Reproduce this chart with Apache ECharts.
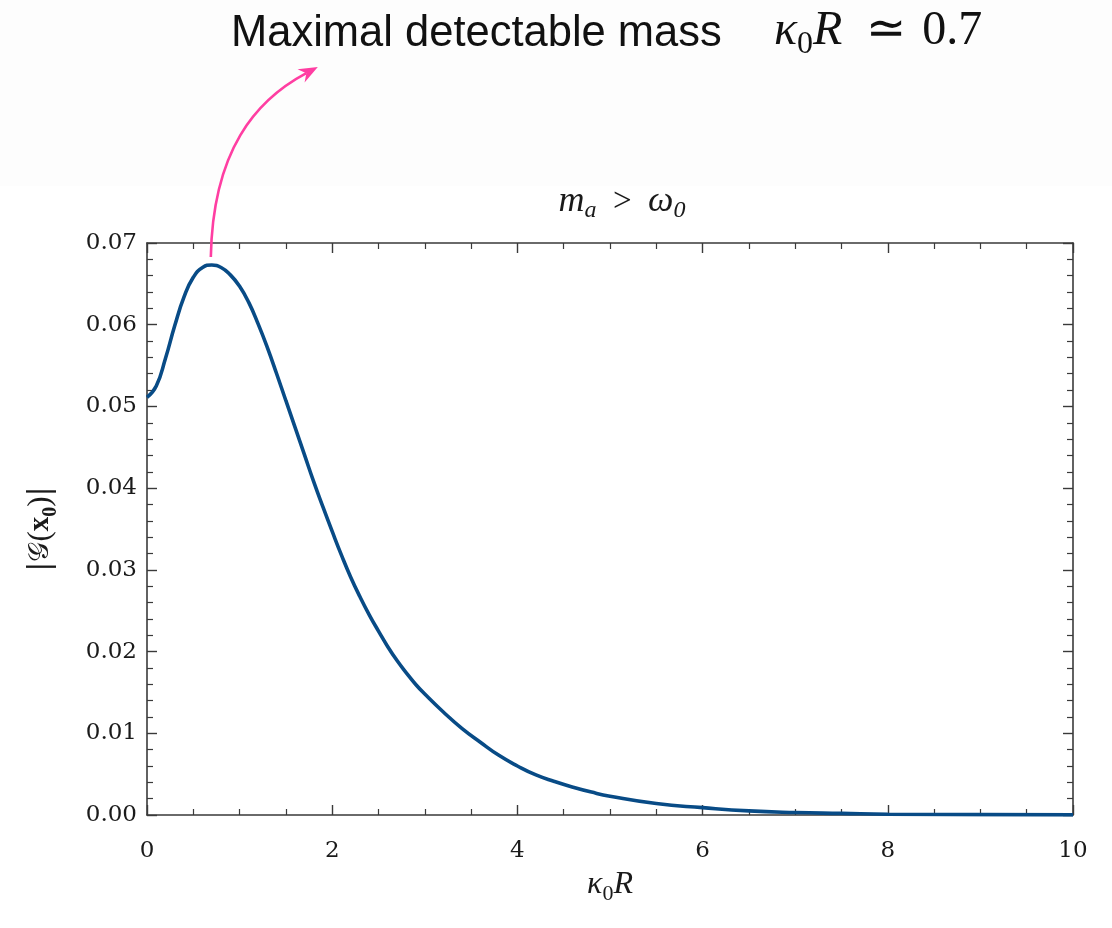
<!DOCTYPE html>
<html>
<head>
<meta charset="utf-8">
<script src="https://cdn.jsdelivr.net/npm/echarts@6/dist/echarts.min.js"></script>
<style>
html,body{margin:0;padding:0;background:#fff;}
#chart{width:1112px;height:928px;}
</style>
</head>
<body>
<div id="chart"></div>
<script>
// ---- data ----
const kappaR = [0, 0.1, 0.2, 0.3, 0.4, 0.5, 0.6, 0.7, 0.8, 0.9, 1.0, 1.1, 1.2, 1.3, 1.4, 1.5, 1.6, 1.7, 1.8, 1.9, 2.0, 2.1, 2.2, 2.3, 2.4, 2.5, 2.6, 2.7, 2.8, 2.9, 3.0, 3.2, 3.4, 3.6, 3.8, 4.0, 4.2, 4.4, 4.6, 4.8, 5.0, 5.5, 6.0, 6.5, 7.0, 7.5, 8.0, 9.0, 10.0];
const gAbs = [0.0511, 0.0525, 0.0559, 0.0599, 0.0634, 0.0658, 0.0670, 0.0673, 0.0670, 0.0661, 0.0647, 0.0627, 0.0601, 0.0572, 0.0540, 0.0507, 0.0474, 0.0441, 0.0408, 0.0377, 0.0347, 0.0318, 0.0291, 0.0267, 0.0245, 0.0225, 0.0206, 0.0189, 0.0174, 0.0160, 0.0148, 0.0126, 0.0106, 0.0089, 0.0073, 0.0060, 0.0049, 0.0041, 0.0034, 0.0028, 0.0023, 0.0014, 0.0009, 0.0005, 0.0003, 0.0002, 0.0001, 0.00004, 0.00001];
const peak = [0.7, 0.0673];
const xTicks = [0, 2, 4, 6, 8, 10];
const yTicks = [0.00, 0.01, 0.02, 0.03, 0.04, 0.05, 0.06, 0.07];

const chart = echarts.init(document.getElementById('chart'), null, {renderer: 'canvas'});
const axisColor = '#3a3a3a';
const labelFont = 'DejaVu Serif';
const mathFont = 'Liberation Serif';
const txt = '#1a1a1a';
const sp = '\u2002';
const sp3 = '\u2004';

function axisCommon(showLabel) {
  return {
    axisLine: {show: true, onZero: false, lineStyle: {color: axisColor, width: 1.6}},
    axisTick: {show: true, inside: true, length: 10, lineStyle: {color: axisColor, width: 1.4}},
    splitLine: {show: false},
    minorSplitLine: {show: false},
    axisLabel: {show: showLabel, fontFamily: labelFont, fontSize: 23, color: txt}
  };
}
const minorX = {show: true, splitNumber: 4, length: 6, lineStyle: {color: axisColor, width: 1.2}};
const minorY = {show: true, splitNumber: 5, length: 6, lineStyle: {color: axisColor, width: 1.2}};

const option = {
  backgroundColor: '#ffffff',
  animation: false,
  title: {
    text: '{i|m}{s|a}{n|' + sp + '>' + sp + '}{i|ω}{s|0}',
    left: 617, top: 176, textAlign: 'center',
    textStyle: {
      fontWeight: 'normal',
      rich: {
        i: {fontFamily: mathFont, fontStyle: 'italic', fontWeight: 'normal', fontSize: 36, color: txt, lineHeight: 42, verticalAlign: 'middle'},
        n: {fontFamily: mathFont, fontWeight: 'normal', fontSize: 33, color: txt, lineHeight: 42, verticalAlign: 'middle'},
        s: {fontFamily: mathFont, fontStyle: 'italic', fontWeight: 'normal', fontSize: 24, color: txt, lineHeight: 42, verticalAlign: 'bottom'}
      }
    }
  },
  grid: {left: 147, right: 39, top: 243, bottom: 113, containLabel: false},
  xAxis: [
    Object.assign({
      type: 'value', min: 0, max: 10, interval: 2, position: 'bottom',
      name: '{i|κ}{s|0}{i|R}', nameLocation: 'middle', nameGap: 50,
      nameTextStyle: {rich: {
        i: {fontFamily: mathFont, fontStyle: 'italic', fontSize: 32, color: txt, lineHeight: 40, verticalAlign: 'middle'},
        s: {fontFamily: mathFont, fontSize: 22, color: txt, lineHeight: 40, verticalAlign: 'bottom'}
      }}
    }, axisCommon(true), {minorTick: minorX,
      axisLabel: {show: true, fontFamily: labelFont, fontSize: 23, color: txt, margin: 25, formatter: v => xTicks.includes(v) ? String(v) : ''}}),
    Object.assign({type: 'value', min: 0, max: 10, interval: 2, position: 'top'}, axisCommon(false), {minorTick: minorX})
  ],
  yAxis: [
    Object.assign({
      type: 'value', min: 0, max: 0.07, interval: 0.01, position: 'left',
      name: '{b||}{g|𝒢}{p|(}{x|x}{s|0}{p|)}{b||}', nameLocation: 'middle', nameGap: 86, nameRotate: 90,
      nameTextStyle: {rich: {
        b: {fontFamily: 'DejaVu Serif', fontSize: 30, color: txt, lineHeight: 40, verticalAlign: 'middle'},
        g: {fontFamily: 'DejaVu Sans', fontSize: 28, color: txt, lineHeight: 40, verticalAlign: 'middle'},
        p: {fontFamily: mathFont, fontSize: 31, color: txt, lineHeight: 40, verticalAlign: 'middle'},
        x: {fontFamily: mathFont, fontWeight: 'bold', fontSize: 29, color: txt, lineHeight: 40, verticalAlign: 'middle'},
        s: {fontFamily: mathFont, fontWeight: 'bold', fontSize: 20, color: txt, lineHeight: 40, verticalAlign: 'bottom'}
      }}
    }, axisCommon(true), {minorTick: minorY,
      axisLabel: {show: true, fontFamily: labelFont, fontSize: 23, color: txt, margin: 10,
        formatter: v => { const t = yTicks.find(y => Math.abs(y - v) < 1e-9); return t === undefined ? '' : t.toFixed(2); }}}),
    Object.assign({type: 'value', min: 0, max: 0.07, interval: 0.01, position: 'right'}, axisCommon(false), {minorTick: minorY})
  ],
  series: [{
    type: 'line',
    xAxisIndex: 0, yAxisIndex: 0,
    data: kappaR.map((k, i) => [k, gAbs[i]]),
    smooth: 0.5,
    showSymbol: false,
    lineStyle: {color: '#084b86', width: 3.6},
    z: 5
  }]
};
chart.setOption(option);

// ---- annotation (anchored to the peak) ----
const pk = chart.convertToPixel({xAxisIndex: 0, yAxisIndex: 0}, peak);
const P0 = [pk[0] - 1, pk[1] - 8];
const P3 = [P0[0] + 107, P0[1] - 190];
const C1 = [P0[0] + 2, P0[1] - 107];
const C2 = [P0[0] + 45, P0[1] - 157];
const dx = P3[0] - C2[0], dy = P3[1] - C2[1];
const dl = Math.hypot(dx, dy);
const d = [dx / dl, dy / dl], n = [-d[1], d[0]];
const L = 19, W = 7.5, notch = 6;
const headPts = [
  P3,
  [P3[0] - L * d[0] + W * n[0], P3[1] - L * d[1] + W * n[1]],
  [P3[0] - (L - notch) * d[0], P3[1] - (L - notch) * d[1]],
  [P3[0] - L * d[0] - W * n[0], P3[1] - L * d[1] - W * n[1]]
];
const lineEnd = [P3[0] - (L - notch) * d[0], P3[1] - (L - notch) * d[1]];
const pink = '#ff3ea2';

chart.setOption({
  graphic: [
    {type: 'rect', z: -10, silent: true, shape: {x: 0, y: 0, width: 1112, height: 186}, style: {fill: '#fdfdfd'}},
    {type: 'bezierCurve', z: 20, silent: true,
      shape: {x1: P0[0], y1: P0[1], x2: lineEnd[0], y2: lineEnd[1], cpx1: C1[0], cpy1: C1[1], cpx2: C2[0], cpy2: C2[1]},
      style: {stroke: pink, lineWidth: 2.6, fill: null}},
    {type: 'polygon', z: 21, silent: true, shape: {points: headPts}, style: {fill: pink}},
    {type: 'text', z: 20, left: 231, top: 12, silent: true,
      style: {text: 'Maximal detectable mass', font: '43.5px "Liberation Sans", Arial, sans-serif', fill: '#111'}},
    {type: 'text', z: 20, left: 774, top: 7, silent: true,
      style: {
        text: '{i|κ}{s|0}{i|R}{n|' + sp + '≃' + sp3 + '0.7}',
        rich: {
          i: {fontFamily: mathFont, fontStyle: 'italic', fontSize: 48, fill: '#111', lineHeight: 60, verticalAlign: 'middle'},
          s: {fontFamily: mathFont, fontSize: 32, fill: '#111', lineHeight: 60, verticalAlign: 'bottom'},
          n: {fontFamily: mathFont, fontSize: 48, fill: '#111', lineHeight: 60, verticalAlign: 'middle'}
        }
      }}
  ]
});
</script>
</body>
</html>
